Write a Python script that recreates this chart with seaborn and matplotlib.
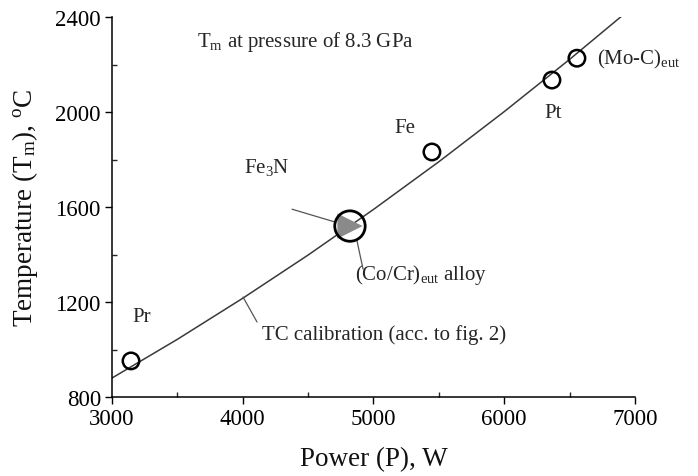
import matplotlib
matplotlib.use("Agg")
import matplotlib.pyplot as plt
import seaborn as sns
import pandas as pd
from matplotlib.ticker import MultipleLocator

# ---- data ----
materials = ["Pr", "Fe3N/(Co/Cr)eut", "Fe", "Pt", "(Mo-C)eut"]
power_w = [3145, 4820, 5447, 6365, 6556]
temp_c = [952, 1520, 1832, 2135, 2227]

# TC calibration curve (acc. to fig. 2)
calib_power = [3000, 3500, 4000, 4500, 5000, 5500, 6000, 6500, 6900]
calib_temp = [880, 1043, 1216, 1398, 1590, 1791, 2002, 2222, 2405]

x_ticks = [3000, 4000, 5000, 6000, 7000]
y_ticks = [800, 1200, 1600, 2000, 2400]

sns.set_theme(style="ticks")
plt.rcParams["font.family"] = ["Liberation Serif", "DejaVu Serif"]
plt.rcParams["mathtext.fontset"] = "custom"
plt.rcParams["mathtext.rm"] = "Liberation Serif"
plt.rcParams["mathtext.it"] = "Liberation Serif:italic"

fig = plt.figure(figsize=(6.98, 4.77), dpi=100)
ax = fig.add_axes([0.1605, 0.1656, 0.7492, 0.7964])

calib = pd.DataFrame({"P": calib_power, "T": calib_temp})
sns.lineplot(data=calib, x="P", y="T", ax=ax, color="#3a3a3a", linewidth=1.1,
             estimator=None, sort=True, zorder=2)

pts = pd.DataFrame({"P": power_w, "T": temp_c, "m": materials})
small = pts[pts["m"] != "Fe3N/(Co/Cr)eut"]
big = pts[pts["m"] == "Fe3N/(Co/Cr)eut"]

# grey triangle (Fe3N) inside the big circle ((Co/Cr)eut alloy)
sns.scatterplot(data=big, x="P", y="T", ax=ax, marker=">", s=330,
                color="#8a8a8a", edgecolor="none", linewidth=0, zorder=3)
sns.scatterplot(data=big, x="P", y="T", ax=ax, marker="o", s=480,
                facecolor="none", edgecolor="black", linewidth=2.0, zorder=4)
sns.scatterplot(data=small, x="P", y="T", ax=ax, marker="o", s=140,
                facecolor="none", edgecolor="black", linewidth=1.8, zorder=4)

ax.set_xlim(3000, 7000)
ax.set_ylim(800, 2400)
ax.set_xticks(x_ticks)
ax.set_yticks(y_ticks)
ax.xaxis.set_minor_locator(MultipleLocator(500))
ax.yaxis.set_minor_locator(MultipleLocator(200))
ax.tick_params(which="major", direction="out", length=5, width=1.0,
               labelsize=16.5, colors="black", pad=3)
ax.tick_params(which="minor", direction="in", length=3.5, width=1.0)
sns.despine(ax=ax)
for s in ["left", "bottom"]:
    ax.spines[s].set_color("black")
    ax.spines[s].set_linewidth(1.1)

ax.set_xlabel("Power (P), W", fontsize=19.5, labelpad=12, color="#111")
ax.set_ylabel(r"Temperature (T$_\mathrm{m}$), $^\mathrm{o}$C", fontsize=19.5,
              labelpad=11, color="#111")

fs = 15
ax.text(3650, 2299, r"T$_\mathrm{m}$ at pressure of 8.3 GPa", fontsize=fs,
        va="center", ha="left")
ax.text(3229, 1137, "Pr", fontsize=fs, va="center", ha="center")
ax.text(5241, 1937, "Fe", fontsize=fs, va="center", ha="center")
ax.text(6373, 2000, "Pt", fontsize=fs, va="center", ha="center")
ax.text(6709, 2227, r"(Mo-C)$_\mathrm{eut}$", fontsize=fs, va="center", ha="left")
ax.text(4180, 1770, r"Fe$_3$N", fontsize=fs, va="center", ha="center")
ax.text(4858, 1318, r"(Co/Cr)$_\mathrm{eut}$ alloy", fontsize=fs, va="center", ha="left")
ax.text(4147, 1065, "TC calibration (acc. to fig. 2)", fontsize=fs, va="center", ha="left")

# leader lines
lc = "#555555"
ax.plot([4377, 4706], [1591, 1537], color=lc, lw=0.9, zorder=2)
ax.plot([4874, 4920], [1457, 1339], color=lc, lw=0.9, zorder=2)
ax.plot([4002, 4109], [1221, 1116], color=lc, lw=0.9, zorder=2)

fig.savefig("out.png", dpi=100)
